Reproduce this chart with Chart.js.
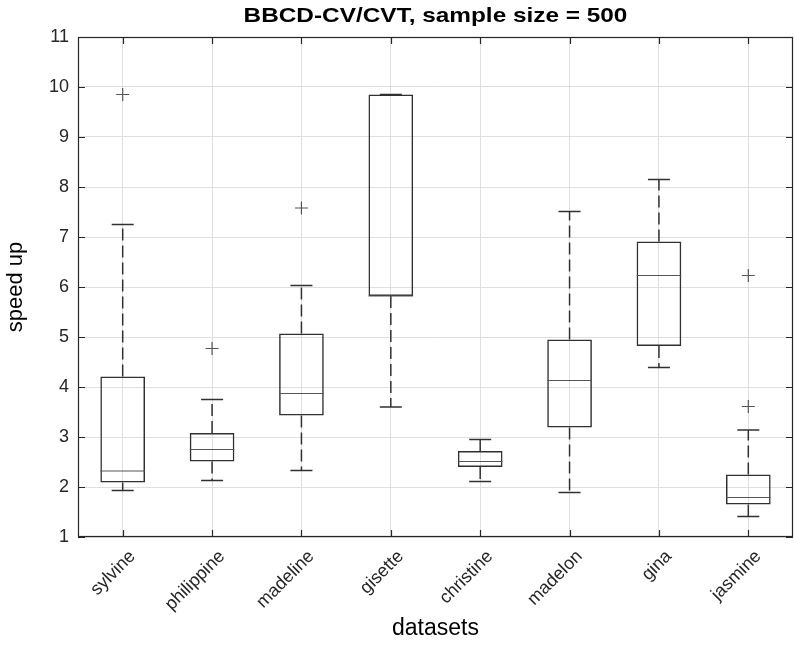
<!DOCTYPE html>
<html>
<head>
<meta charset="utf-8">
<script src="https://cdn.jsdelivr.net/npm/chart.js@4"></script>
<style>
  html, body { margin: 0; padding: 0; background: #ffffff; }
  #wrap { width: 794px; height: 661px; position: relative; }
</style>
</head>
<body>
<div id="wrap"><canvas id="c" width="794" height="661"></canvas></div>
<script>
// ---- data ----
const categories   = ['sylvine', 'philippine', 'madeline', 'gisette', 'christine', 'madelon', 'gina', 'jasmine'];
const whiskerLow   = [1.93, 2.13, 2.33, 3.60, 2.11, 1.89, 4.39, 1.41];
const q1           = [2.09, 2.51, 3.43, 5.82, 2.40, 3.19, 4.82, 1.65];
const median       = [2.32, 2.75, 3.87, 5.82, 2.51, 4.13, 6.23, 1.79];
const q3           = [4.21, 3.08, 5.07, 9.85, 2.72, 4.95, 6.91, 2.25];
const whiskerHigh  = [7.25, 3.75, 6.03, 9.85, 2.95, 7.51, 8.15, 3.14];
const outlierCats  = ['sylvine', 'philippine', 'madeline', 'jasmine', 'jasmine'];
const outlierVals  = [9.85, 4.77, 7.58, 6.23, 3.61];
const yTicks       = [1, 2, 3, 4, 5, 6, 7, 8, 9, 10, 11];
const titleText    = 'BBCD-CV/CVT, sample size = 500';
const xTitle       = 'datasets';
const yTitle       = 'speed up';

const FONT = "'Liberation Sans', Arial, Helvetica, sans-serif";
const INK = '#262626';
const BOX = '#303030';

// whisker segments (q3 -> high, q1 -> low), separated by gaps
const whiskerPts = [];
categories.forEach((c, i) => {
  whiskerPts.push({x: c, y: q3[i]}, {x: c, y: whiskerHigh[i]}, {x: c, y: null});
  whiskerPts.push({x: c, y: q1[i]}, {x: c, y: whiskerLow[i]}, {x: c, y: null});
});

const framePlugin = {
  id: 'frame',
  afterDraw(chart) {
    const {ctx, chartArea: a, scales} = chart;
    ctx.save();
    ctx.strokeStyle = INK;
    ctx.lineWidth = 1.2;
    ctx.strokeRect(a.left + 0.5, a.top + 0.5, a.right - a.left - 1, a.bottom - a.top - 1);
    const L = 7;
    ctx.beginPath();
    scales.x.ticks.forEach((t, i) => {
      const x = Math.round(scales.x.getPixelForTick(i)) + 0.5;
      ctx.moveTo(x, a.top); ctx.lineTo(x, a.top + L);
      ctx.moveTo(x, a.bottom); ctx.lineTo(x, a.bottom - L);
    });
    scales.y.ticks.forEach((t, i) => {
      const y = Math.round(scales.y.getPixelForTick(i)) + 0.5;
      ctx.moveTo(a.left, y); ctx.lineTo(a.left + L, y);
      ctx.moveTo(a.right, y); ctx.lineTo(a.right - L, y);
    });
    ctx.stroke();
    // title
    ctx.fillStyle = '#000';
    ctx.font = "bold 21px " + FONT;
    ctx.textAlign = 'center';
    ctx.textBaseline = 'alphabetic';
    ctx.translate((a.left + a.right) / 2, 22);
    ctx.scale(1.16, 1);
    ctx.fillText(titleText, 0, 0);
    ctx.restore();
  }
};

new Chart(document.getElementById('c'), {
  type: 'bar',
  data: {
    labels: categories,
    datasets: [
      {
        type: 'bar',
        label: 'box',
        data: categories.map((c, i) => [q1[i], q3[i]]),
        backgroundColor: 'rgba(0,0,0,0)',
        borderColor: BOX,
        borderWidth: 1.5,
        borderSkipped: false,
        barPercentage: 0.5,
        categoryPercentage: 1,
        order: 5
      },
      {
        type: 'line',
        label: 'whiskers',
        data: whiskerPts,
        borderColor: BOX,
        borderWidth: 1.5,
        borderDash: [12, 5],
        pointRadius: 0,
        spanGaps: false,
        fill: false,
        order: 4
      },
      {
        type: 'line',
        label: 'median',
        data: median,
        showLine: false,
        pointStyle: 'line',
        pointRadius: 22.3,
        pointBorderWidth: 1.2,
        pointBorderColor: '#555',
        order: 3
      },
      {
        type: 'line',
        label: 'capHigh',
        data: whiskerHigh,
        showLine: false,
        pointStyle: 'line',
        pointRadius: 11,
        pointBorderWidth: 1.5,
        pointBorderColor: BOX,
        order: 2
      },
      {
        type: 'line',
        label: 'capLow',
        data: whiskerLow,
        showLine: false,
        pointStyle: 'line',
        pointRadius: 11,
        pointBorderWidth: 1.5,
        pointBorderColor: BOX,
        order: 2
      },
      {
        type: 'line',
        label: 'outliers',
        data: outlierCats.map((c, i) => ({x: c, y: outlierVals[i]})),
        showLine: false,
        pointStyle: 'cross',
        pointRadius: 6.5,
        pointBorderWidth: 1.2,
        pointBorderColor: '#555',
        order: 1
      }
    ]
  },
  options: {
    responsive: false,
    animation: false,
    events: [],
    layout: { autoPadding: false, padding: { top: 37, right: 1, left: 0, bottom: 0 } },
    plugins: {
      legend: { display: false },
      tooltip: { enabled: false },
      title: { display: false }
    },
    scales: {
      x: {
        type: 'category',
        offset: true,
        grid: { display: true, offset: false, color: '#dfdfdf', drawTicks: false },
        border: { display: false },
        ticks: {
          color: INK,
          font: { family: FONT, size: 18 },
          minRotation: 45,
          maxRotation: 45,
          padding: 9,
          labelOffset: 10,
          autoSkip: false
        },
        title: {
          display: true,
          text: xTitle,
          color: '#000',
          font: { family: FONT, size: 23 },
          padding: { top: 0, bottom: 19 }
        },
        afterFit(scale) {
          scale.height = 124;
          scale.paddingLeft = 0;
          scale.paddingRight = 0;
        }
      },
      y: {
        type: 'linear',
        min: 1,
        max: 11,
        afterBuildTicks(scale) { scale.ticks = yTicks.map(v => ({value: v})); },
        grid: { display: true, color: '#dfdfdf', drawTicks: false },
        border: { display: false },
        ticks: {
          color: INK,
          font: { family: FONT, size: 18 },
          padding: 9
        },
        title: {
          display: true,
          text: yTitle,
          color: '#000',
          font: { family: FONT, size: 22 },
          padding: { top: 3, bottom: 0 }
        },
        afterFit(scale) {
          scale.width = 78;
          scale.paddingTop = 0;
          scale.paddingBottom = 0;
        }
      }
    }
  },
  plugins: [framePlugin]
});
</script>
</body>
</html>
